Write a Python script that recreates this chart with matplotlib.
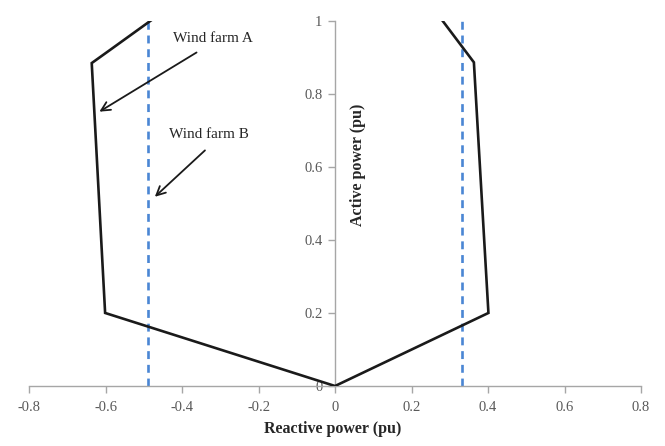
import matplotlib
matplotlib.use("Agg")
import matplotlib.pyplot as plt

# Capability curve (reactive power Q, active power P)
curve_q = [-0.482, -0.588, -0.636, -0.601, 0.0, 0.401, 0.363, 0.281]
curve_p = [1.0, 0.92, 0.884, 0.2, 0.0, 0.2, 0.886, 1.0]

# Wind farm B limits (dashed)
limit_q = [-0.49, 0.331]
limit_p = [0.0, 1.0]

x_ticks = [-0.8, -0.6, -0.4, -0.2, 0, 0.2, 0.4, 0.6, 0.8]
y_ticks = [0, 0.2, 0.4, 0.6, 0.8, 1]

plt.rcParams['font.family'] = ['Liberation Serif', 'DejaVu Serif']

fig = plt.figure(figsize=(6.65, 4.46), dpi=100)
ax = fig.add_axes([0.0436, 0.1345, 0.9204, 0.8191])

ax.plot(curve_q, curve_p, color='#1a1a1a', lw=1.9, solid_joinstyle='miter', zorder=3)
for q in limit_q:
    ax.plot([q, q], limit_p, color='#4a86d4', lw=1.9, ls=(0, (3, 2.2)), zorder=2)

ax.set_xlim(-0.8, 0.8)
ax.set_ylim(0, 1)
ax.set_xticks(x_ticks)
ax.set_yticks(y_ticks)
ax.set_xticklabels([f"{t:g}" for t in x_ticks])
ax.set_yticklabels([f"{t:g}" for t in y_ticks])

for s in ['top', 'right']:
    ax.spines[s].set_visible(False)
ax.spines['left'].set_position(('data', 0))
ax.spines['bottom'].set_position(('data', 0))
for s in ['left', 'bottom']:
    ax.spines[s].set_color('#a6a6a6')
    ax.spines[s].set_linewidth(1.0)
ax.tick_params(axis='both', colors='#a6a6a6', labelcolor='#595959', labelsize=10.5,
               length=5, width=1.0, direction='out')
ax.tick_params(axis='x', pad=6)
ax.tick_params(axis='y', pad=4)

fig.text(0.5, 0.02, 'Reactive power (pu)', ha='center', va='bottom',
         fontsize=11.5, fontweight='bold', color='#262626')
ax.text(0.06, 0.605, 'Active power (pu)', rotation=90, ha='center', va='center',
        fontsize=11.5, fontweight='bold', color='#262626')

arrow_kw = dict(arrowstyle='->', color='#1a1a1a', lw=1.3,
                shrinkA=0, shrinkB=0, mutation_scale=16)

ax.text(-0.423, 0.952, 'Wind farm A', ha='left', va='center', fontsize=11, color='#262626')
ax.annotate('', xy=(-0.616, 0.751), xytext=(-0.362, 0.913), arrowprops=arrow_kw)

ax.text(-0.434, 0.688, 'Wind farm B', ha='left', va='center', fontsize=11, color='#262626')
ax.annotate('', xy=(-0.471, 0.518), xytext=(-0.340, 0.645), arrowprops=arrow_kw)

fig.savefig('out.png', dpi=100)
